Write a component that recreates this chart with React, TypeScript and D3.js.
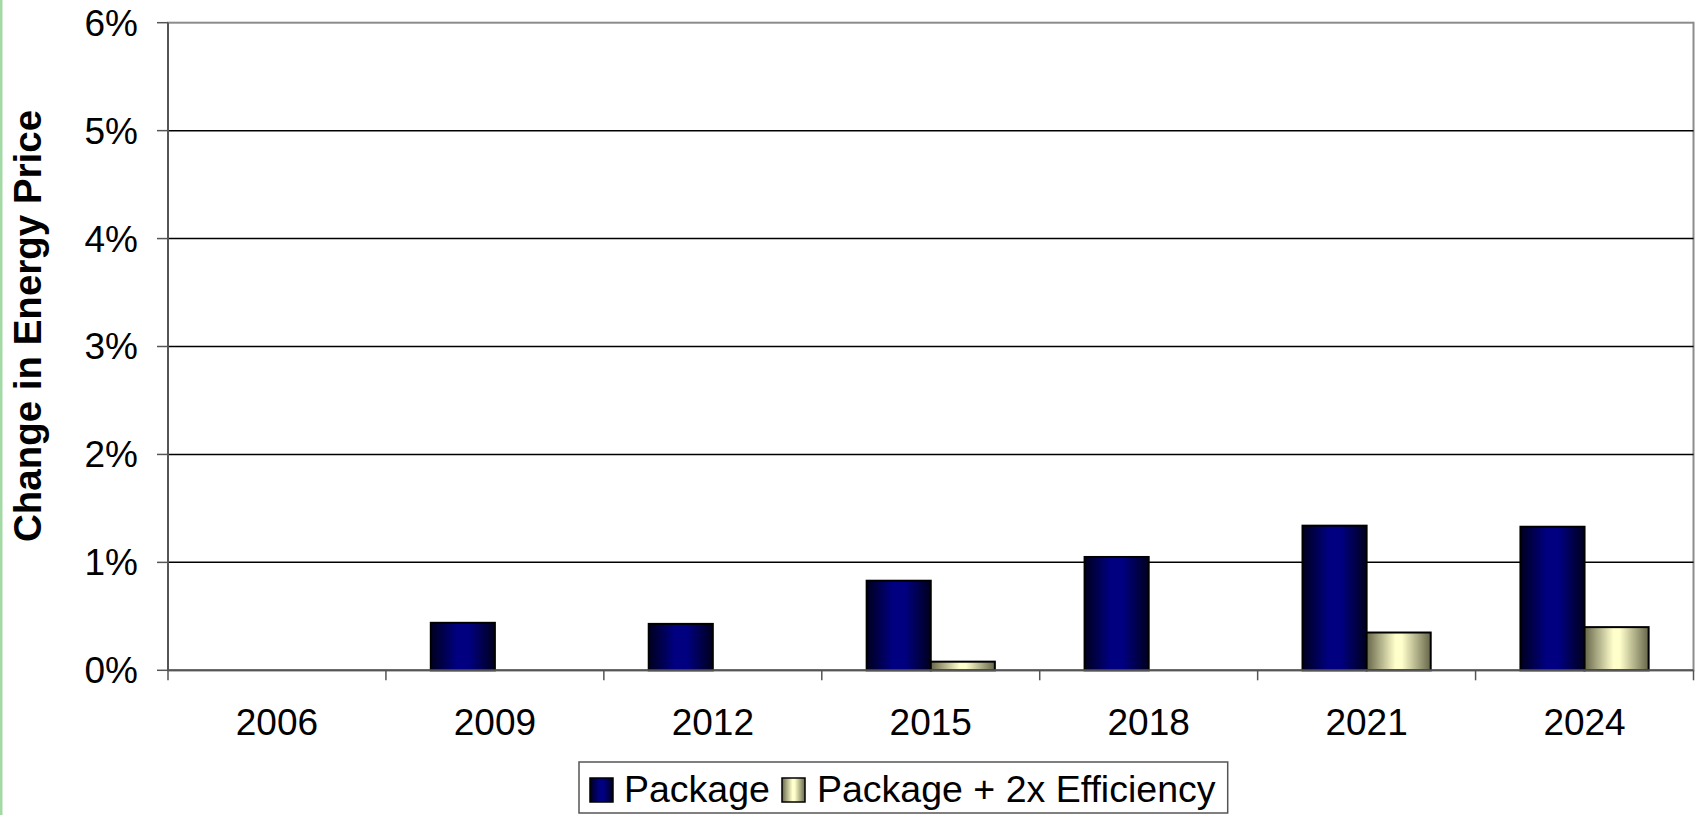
import * as d3 from "d3";

const years = ["2006", "2009", "2012", "2015", "2018", "2021", "2024"];
const seriesNames = ["Package", "Package + 2x Efficiency"];
const packageValues = [0, 0.44, 0.43, 0.83, 1.05, 1.34, 1.33];
const efficiencyValues = [0, 0, 0, 0.08, 0, 0.35, 0.4];
const yTicks = [0, 1, 2, 3, 4, 5, 6];

const W = 1701;
const H = 815;
const left = 168;
const right = 1693.5;
const top = 22.7;
const bottom = 670.3;
const font = "'Liberation Sans', Arial, sans-serif";

const fills = ["url(#gradNavy)", "url(#gradCream)"];

export default function App() {
  const x0 = d3.scaleBand<string>().domain(years).range([left, right]).paddingInner(0).paddingOuter(0);
  const x1 = d3
    .scaleBand<string>()
    .domain(seriesNames)
    .range([0, x0.bandwidth()])
    .paddingInner(0)
    .paddingOuter(0.7);
  const y = d3.scaleLinear().domain([0, 6]).range([bottom, top]);

  const rows = years.map((year, i) => ({
    year,
    values: [packageValues[i], efficiencyValues[i]],
  }));

  const legendY = 762;
  const legendX = 579;

  return (
    <svg
      width={W}
      height={H}
      style={{ position: "absolute", left: 0, top: 0, display: "block", background: "#fff" }}
      fontFamily={font}
    >
      <defs>
        <linearGradient id="gradNavy" x1="0" x2="1" y1="0" y2="0">
          <stop offset="0%" stopColor="#00001e" />
          <stop offset="40%" stopColor="#000080" />
          <stop offset="60%" stopColor="#000080" />
          <stop offset="100%" stopColor="#00001e" />
        </linearGradient>
        <linearGradient id="gradCream" x1="0" x2="1" y1="0" y2="0">
          <stop offset="0%" stopColor="#66664a" />
          <stop offset="45%" stopColor="#ffffcc" />
          <stop offset="55%" stopColor="#ffffcc" />
          <stop offset="100%" stopColor="#66664a" />
        </linearGradient>
      </defs>

      {/* slide edge */}
      <rect x={0} y={0} width={2.5} height={H} fill="#a3d9a5" />

      {/* plot frame */}
      <rect x={left} y={top} width={right - left} height={bottom - top} fill="none" stroke="#8c8c8c" strokeWidth={2} />

      {/* gridlines */}
      {yTicks
        .filter((t) => t > 0 && t < 6)
        .map((t) => (
          <line key={t} x1={left} x2={right} y1={y(t)} y2={y(t)} stroke="#000" strokeWidth={1.5} />
        ))}

      {/* y axis */}
      <line x1={left} x2={left} y1={top} y2={bottom} stroke="#555" strokeWidth={2} />
      {yTicks.map((t) => (
        <g key={t}>
          <line x1={left - 11} x2={left} y1={y(t)} y2={y(t)} stroke="#555" strokeWidth={1.5} />
          <text x={138} y={y(t)} dy="0.35em" textAnchor="end" fontSize={37} fill="#000">
            {`${t}%`}
          </text>
        </g>
      ))}

      {/* bars */}
      {rows.map((row) => (
        <g key={row.year} transform={`translate(${x0(row.year)},0)`}>
          {row.values.map((v, j) =>
            v > 0 ? (
              <rect
                key={j}
                x={x1(seriesNames[j])}
                y={y(v)}
                width={x1.bandwidth()}
                height={y(0) - y(v)}
                fill={fills[j]}
                stroke="#000"
                strokeWidth={2}
              />
            ) : null,
          )}
        </g>
      ))}

      {/* x axis */}
      <line x1={left} x2={right} y1={bottom} y2={bottom} stroke="#555" strokeWidth={2} />
      {years.map((yr) => (
        <line
          key={`t${yr}`}
          x1={x0(yr)!}
          x2={x0(yr)!}
          y1={bottom}
          y2={bottom + 10}
          stroke="#555"
          strokeWidth={1.5}
        />
      ))}
      <line x1={right} x2={right} y1={bottom} y2={bottom + 10} stroke="#555" strokeWidth={1.5} />
      {years.map((yr) => (
        <text key={`l${yr}`} x={x0(yr)! + x0.bandwidth() / 2} y={735} textAnchor="middle" fontSize={37} fill="#000">
          {yr}
        </text>
      ))}

      {/* y title */}
      <text
        transform={`translate(41, 326) rotate(-90)`}
        textAnchor="middle"
        fontSize={38.5}
        fontWeight="bold"
        fill="#000"
      >
        Change in Energy Price
      </text>

      {/* legend */}
      <rect x={legendX} y={legendY} width={1227.7 - legendX} height={H - legendY - 2} fill="#fff" stroke="#555" strokeWidth={1.5} />
      <rect x={590} y={778} width={23} height={24} fill="url(#gradNavy)" stroke="#000" strokeWidth={1.5} />
      <text x={624} y={802} fontSize={37.5} fill="#000">
        {seriesNames[0]}
      </text>
      <rect x={782} y={778} width={23} height={24} fill="url(#gradCream)" stroke="#000" strokeWidth={1.5} />
      <text x={817} y={802} fontSize={37.5} fill="#000">
        {seriesNames[1]}
      </text>
    </svg>
  );
}
